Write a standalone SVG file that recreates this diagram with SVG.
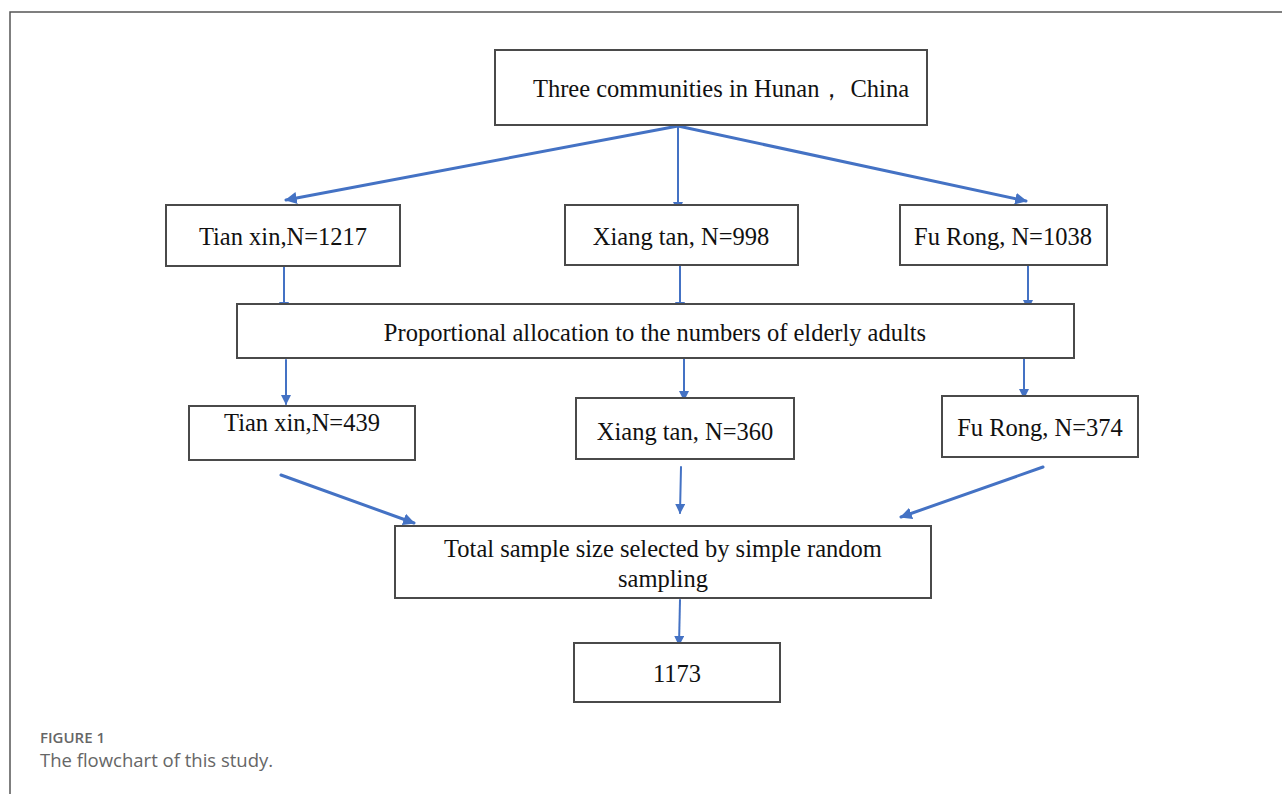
<svg xmlns="http://www.w3.org/2000/svg" width="1282" height="794" viewBox="0 0 1282 794">
<defs>
<style>
.box{fill:#fff;stroke:#4a4a4a;stroke-width:2}
.t{font-family:"Liberation Serif","Times New Roman",serif;font-size:24.5px;fill:#111;text-anchor:middle}
.c{stroke:#4472C4;fill:none;stroke-linecap:round}
.w3{stroke-width:3}
.w2{stroke-width:2}
.cap1{font-family:"Open Sans","Noto Sans",sans-serif;font-size:15px;font-weight:600;fill:#666}
.cap2{font-family:"Open Sans","Noto Sans",sans-serif;font-size:18.5px;fill:#666}
</style>
<marker id="ah" viewBox="0 0 10 10" refX="9" refY="5" markerWidth="4" markerHeight="4" orient="auto" markerUnits="strokeWidth">
<path d="M0,0 L10,5 L0,10 z" fill="#4472C4"/>
</marker>
<marker id="ah2" viewBox="0 0 10 10" refX="9" refY="5" markerWidth="5" markerHeight="5" orient="auto" markerUnits="strokeWidth">
<path d="M0,0 L10,5 L0,10 z" fill="#4472C4"/>
</marker>
</defs>
<rect width="1282" height="794" fill="#fff"/>
<path d="M10,794 V12 H1282" fill="none" stroke="#555" stroke-width="1.5"/>

<g id="connectors">
<line class="c w3" x1="678" y1="126" x2="286" y2="200" marker-end="url(#ah)"/>
<line class="c w2" x1="678" y1="126" x2="678" y2="211" marker-end="url(#ah2)"/>
<line class="c w3" x1="678" y1="126" x2="1026" y2="201" marker-end="url(#ah)"/>
<line class="c w2" x1="284" y1="267" x2="284" y2="311" marker-end="url(#ah2)"/>
<line class="c w2" x1="680" y1="266" x2="680" y2="311" marker-end="url(#ah2)"/>
<line class="c w2" x1="1028" y1="266" x2="1028" y2="309" marker-end="url(#ah2)"/>
<line class="c w2" x1="286" y1="360" x2="286" y2="404" marker-end="url(#ah2)"/>
<line class="c w2" x1="684" y1="357" x2="684" y2="400" marker-end="url(#ah2)"/>
<line class="c w2" x1="1024" y1="357" x2="1024" y2="398" marker-end="url(#ah2)"/>
<line class="c w3" x1="281" y1="475" x2="414" y2="523" marker-end="url(#ah)"/>
<line class="c w2" x1="681" y1="467" x2="680" y2="513" marker-end="url(#ah2)"/>
<line class="c w3" x1="1043" y1="467" x2="901" y2="517" marker-end="url(#ah)"/>
<line class="c w2" x1="680" y1="600" x2="679" y2="645" marker-end="url(#ah2)"/>
</g>

<g id="n-top"><rect class="box" x="495" y="50" width="432" height="75"/><text class="t" x="721" y="97">Three communities in Hunan， China</text></g>
<g id="n-tianxin1"><rect class="box" x="166" y="205" width="234" height="61"/><text class="t" x="283" y="245">Tian xin,N=1217</text></g>
<g id="n-xiangtan1"><rect class="box" x="565" y="205" width="233" height="60"/><text class="t" x="681" y="245">Xiang tan, N=998</text></g>
<g id="n-furong1"><rect class="box" x="900" y="205" width="207" height="60"/><text class="t" x="1003" y="245">Fu Rong, N=1038</text></g>
<g id="n-prop"><rect class="box" x="237" y="304" width="837" height="54"/><text class="t" x="655" y="341">Proportional allocation to the numbers of elderly adults</text></g>
<g id="n-tianxin2"><rect class="box" x="189" y="406" width="226" height="54"/><text class="t" x="302" y="431">Tian xin,N=439</text></g>
<g id="n-xiangtan2"><rect class="box" x="576" y="398" width="218" height="61"/><text class="t" x="685" y="440">Xiang tan, N=360</text></g>
<g id="n-furong2"><rect class="box" x="942" y="396" width="196" height="61"/><text class="t" x="1040" y="436">Fu Rong, N=374</text></g>
<g id="n-total"><rect class="box" x="395" y="526" width="536" height="72"/><text class="t" x="663" y="557">Total sample size selected by simple random</text><text class="t" x="663" y="587">sampling</text></g>
<g id="n-1173"><rect class="box" x="574" y="643" width="206" height="59"/><text class="t" x="677" y="682">1173</text></g>

<text class="cap1" x="40" y="743">FIGURE 1</text>
<text class="cap2" x="40" y="767">The flowchart of this study.</text>
</svg>
